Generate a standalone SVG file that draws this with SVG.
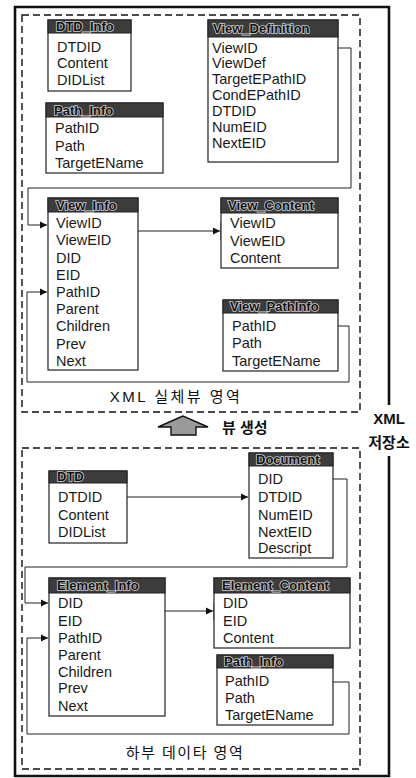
<svg xmlns="http://www.w3.org/2000/svg" width="416" height="778" viewBox="0 0 416 778">
<style>
.box{fill:#fff;stroke:#222;stroke-width:1.2}
.hdr{fill:#3c3c3c;stroke:#222;stroke-width:1}
.ht{font-family:"Liberation Sans",Arial,sans-serif;font-size:13px;font-weight:bold;fill:#111;stroke:#cfcfcf;stroke-width:1.6;paint-order:stroke}
.f{font-family:"Liberation Sans",Arial,sans-serif;font-size:14.5px;fill:#1a1a1a}
.ko{font-family:"Liberation Sans","Noto Sans CJK KR",sans-serif;font-size:15px;fill:#111}
.kb{font-family:"Liberation Sans","Noto Sans CJK KR",sans-serif;font-size:15px;font-weight:bold;fill:#111}
.c{fill:none;stroke:#222;stroke-width:1}
.dash{fill:none;stroke:#111;stroke-width:1.4;stroke-dasharray:7 4}
</style>
<defs>
<marker id="ah" markerUnits="userSpaceOnUse" markerWidth="8" markerHeight="8" refX="7" refY="4" orient="auto">
<path d="M0,0.5 L7,4 L0,7.5 Z" fill="#111"/>
</marker>
</defs>
<rect width="416" height="778" fill="#fff"/>
<g id="frame">
<path d="M389,405 V7 H15 V776 H389 V456" fill="none" stroke="#111" stroke-width="2.6"/>
<rect class="dash" x="22" y="15" width="338" height="397"/>
<rect class="dash" x="22" y="448" width="338" height="321"/>
</g>
<g id="connectors">
<path class="c" d="M263,48 H351 V188 H28 V225 H47" marker-end="url(#ah)"/>
<path class="c" d="M279,326 H349 V382 H27 V292 H47" marker-end="url(#ah)"/>
<path class="c" d="M104,222 H118 V240 H112"/>
<path class="c" d="M118,231 H220" marker-end="url(#ah)"/>
<path class="c" d="M226,222 H221 V240 H226"/>
<path class="c" d="M104,497 H248" marker-end="url(#ah)"/>
<path class="c" d="M284,479 H347 V567 H25 V603 H48" marker-end="url(#ah)"/>
<path class="c" d="M85,601 H92 V620 H84"/>
<path class="c" d="M92,611 H213" marker-end="url(#ah)"/>
<path class="c" d="M219,603 H214 V620 H219"/>
<path class="c" d="M271,682 H349 V734 H27 V638 H48" marker-end="url(#ah)"/>
</g>
<g id="DTD_Info">
<rect class="box" x="48" y="20" width="83" height="71"/>
<rect class="hdr" x="48" y="20" width="83" height="13"/>
<text class="ht" x="56" y="31">DTD_Info</text>
<text class="f" x="57" y="52">DTDID</text>
<text class="f" x="57" y="68">Content</text>
<text class="f" x="57" y="85">DIDList</text>
</g>
<g id="Path_Info_view">
<rect class="box" x="46" y="103" width="117" height="70"/>
<rect class="hdr" x="46" y="103" width="117" height="14"/>
<text class="ht" x="54" y="115">Path_Info</text>
<text class="f" x="55" y="133">PathID</text>
<text class="f" x="55" y="151">Path</text>
<text class="f" x="55" y="168">TargetEName</text>
</g>
<g id="View_Definition">
<rect class="box" x="208" y="20" width="130" height="142"/>
<rect class="hdr" x="208" y="20" width="130" height="17"/>
<text class="ht" x="213" y="33">View_Definition</text>
<text class="f" x="212" y="53">ViewID</text>
<text class="f" x="212" y="68">ViewDef</text>
<text class="f" x="212" y="84">TargetEPathID</text>
<text class="f" x="212" y="100">CondEPathID</text>
<text class="f" x="212" y="116">DTDID</text>
<text class="f" x="212" y="132">NumEID</text>
<text class="f" x="212" y="148">NextEID</text>
</g>
<g id="View_Info">
<rect class="box" x="48" y="198" width="90" height="172"/>
<rect class="hdr" x="48" y="198" width="90" height="14"/>
<text class="ht" x="56" y="210">View_Info</text>
<text class="f" x="56" y="228">ViewID</text>
<text class="f" x="56" y="245">ViewEID</text>
<text class="f" x="56" y="263">DID</text>
<text class="f" x="56" y="280">EID</text>
<text class="f" x="56" y="297">PathID</text>
<text class="f" x="56" y="314">Parent</text>
<text class="f" x="56" y="331">Children</text>
<text class="f" x="56" y="349">Prev</text>
<text class="f" x="56" y="366">Next</text>
</g>
<g id="View_Content">
<rect class="box" x="221" y="198" width="117" height="70"/>
<rect class="hdr" x="221" y="198" width="117" height="15"/>
<text class="ht" x="228" y="210">View_Content</text>
<text class="f" x="230" y="228">ViewID</text>
<text class="f" x="230" y="246">ViewEID</text>
<text class="f" x="230" y="263">Content</text>
</g>
<g id="View_PathInfo">
<rect class="box" x="223" y="300" width="115" height="71"/>
<rect class="hdr" x="223" y="300" width="115" height="13"/>
<text class="ht" x="230" y="311">View_PathInfo</text>
<text class="f" x="232" y="331">PathID</text>
<text class="f" x="232" y="348">Path</text>
<text class="f" x="232" y="366">TargetEName</text>
</g>
<g id="DTD">
<rect class="box" x="49" y="471" width="78" height="72"/>
<rect class="hdr" x="49" y="471" width="78" height="12"/>
<text class="ht" x="57" y="481">DTD</text>
<text class="f" x="58" y="502">DTDID</text>
<text class="f" x="58" y="520">Content</text>
<text class="f" x="58" y="537">DIDList</text>
</g>
<g id="Document">
<rect class="box" x="249" y="453" width="84" height="105"/>
<rect class="hdr" x="249" y="453" width="84" height="13"/>
<text class="ht" x="256" y="464">Document</text>
<text class="f" x="258" y="484">DID</text>
<text class="f" x="258" y="502">DTDID</text>
<text class="f" x="258" y="520">NumEID</text>
<text class="f" x="258" y="537">NextEID</text>
<text class="f" x="258" y="553">Descript</text>
</g>
<g id="Element_Info">
<rect class="box" x="49" y="578" width="116" height="138"/>
<rect class="hdr" x="49" y="578" width="116" height="15"/>
<text class="ht" x="57" y="590">Element_Info</text>
<text class="f" x="58" y="608">DID</text>
<text class="f" x="58" y="626">EID</text>
<text class="f" x="58" y="643">PathID</text>
<text class="f" x="58" y="660">Parent</text>
<text class="f" x="58" y="677">Children</text>
<text class="f" x="58" y="693">Prev</text>
<text class="f" x="58" y="711">Next</text>
</g>
<g id="Element_Content">
<rect class="box" x="214" y="578" width="136" height="70"/>
<rect class="hdr" x="214" y="578" width="136" height="15"/>
<text class="ht" x="222" y="590">Element_Content</text>
<text class="f" x="223" y="608">DID</text>
<text class="f" x="223" y="626">EID</text>
<text class="f" x="223" y="643">Content</text>
</g>
<g id="Path_Info_data">
<rect class="box" x="217" y="655" width="116" height="70"/>
<rect class="hdr" x="217" y="655" width="116" height="13"/>
<text class="ht" x="224" y="666">Path_Info</text>
<text class="f" x="225" y="686">PathID</text>
<text class="f" x="225" y="703">Path</text>
<text class="f" x="225" y="720">TargetEName</text>
</g>
<g id="labels">
<text class="ko" x="176" y="402" text-anchor="middle" letter-spacing="2.5">XML 실체뷰 영역</text>
<text class="ko" x="185" y="758" text-anchor="middle" letter-spacing="1.5">하부 데이타 영역</text>
<polygon points="183,416 158,427 171,427 171,435 196,435 196,427 208,427" fill="#9a9a9a" stroke="#111" stroke-width="1.4"/>
<text class="kb" x="222" y="433" font-size="14">뷰 생성</text>
<text class="kb" x="389" y="424" text-anchor="middle">XML</text>
<text class="kb" x="389" y="448" text-anchor="middle">저장소</text>
</g>
</svg>
